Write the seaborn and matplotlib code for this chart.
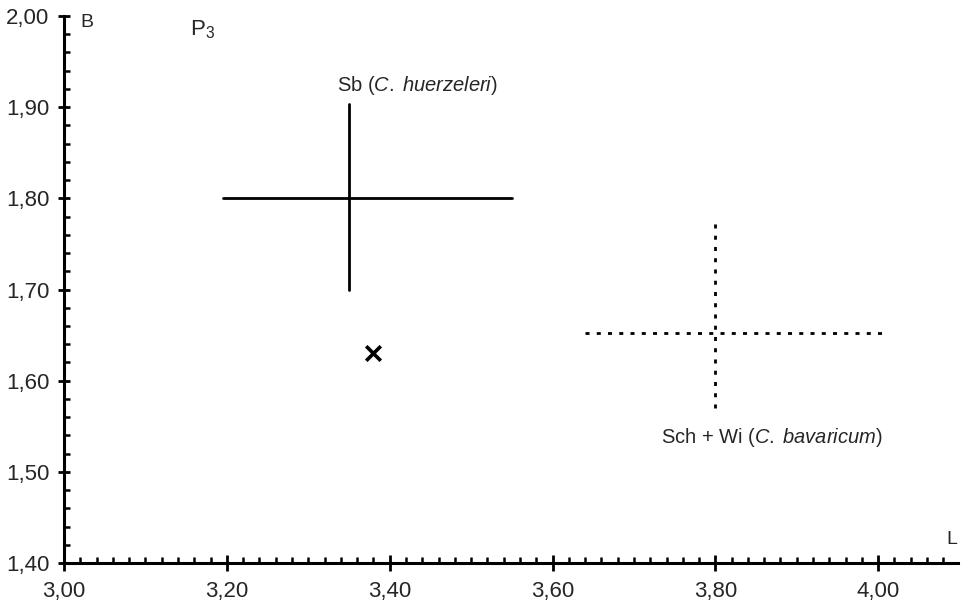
import matplotlib
matplotlib.use("Agg")
import matplotlib.pyplot as plt
import seaborn as sns
import pandas as pd
import numpy as np
from matplotlib.ticker import MultipleLocator, FuncFormatter

# --- data ---
groups = ["Sb (C. huerzeleri)", "Sch + Wi (C. bavaricum)"]
l_min = [3.195, 3.64]
l_mean = [3.35, 3.80]
l_max = [3.55, 4.005]
b_min = [1.70, 1.57]
b_mean = [1.80, 1.652]
b_max = [1.903, 1.78]
single_l = [3.38]
single_b = [1.63]
x_ticks = [3.00, 3.20, 3.40, 3.60, 3.80, 4.00]
y_ticks = [1.40, 1.50, 1.60, 1.70, 1.80, 1.90, 2.00]

sns.set_style("white")
plt.rcParams["font.family"] = ["Liberation Sans", "DejaVu Sans"]
plt.rcParams["mathtext.fontset"] = "custom"
plt.rcParams["mathtext.rm"] = "Liberation Sans"
plt.rcParams["mathtext.it"] = "Liberation Sans:italic"

fig = plt.figure(figsize=(9.66, 6.03), dpi=100)
ax = fig.add_axes([0.0663, 0.0663, 0.9254, 0.9072])

styles = ["-", (0, (1.45, 2.6))]
for i, g in enumerate(groups):
    hseg = pd.DataFrame({"L": [l_min[i], l_max[i]], "B": [b_mean[i], b_mean[i]]})
    vseg = pd.DataFrame({"L": [l_mean[i], l_mean[i]], "B": [b_min[i], b_max[i]]})
    for seg in (hseg, vseg):
        sns.lineplot(data=seg, x="L", y="B", ax=ax, color="black", lw=2.0,
                     linestyle=styles[i], sort=False, estimator=None)

pts = pd.DataFrame({"L": single_l, "B": single_b})
sns.scatterplot(data=pts, x="L", y="B", ax=ax, marker="x", s=110,
                color="black", linewidth=2.6)

ax.set_xlim(3.0, 4.098)
ax.set_ylim(1.40, 2.00)
ax.set_xlabel("")
ax.set_ylabel("")

for s in ("top", "right"):
    ax.spines[s].set_visible(False)
for s in ("left", "bottom"):
    ax.spines[s].set_linewidth(2.2)
    ax.spines[s].set_color("black")

ax.set_xticks(x_ticks)
ax.set_yticks(y_ticks)
ax.xaxis.set_minor_locator(MultipleLocator(0.02))
ax.yaxis.set_minor_locator(MultipleLocator(0.02))
fmt = FuncFormatter(lambda v, p: f"{v:.2f}".replace(".", ","))
ax.xaxis.set_major_formatter(fmt)
ax.yaxis.set_major_formatter(fmt)

ax.tick_params(which="both", bottom=True, left=True, top=False, right=False)
ax.tick_params(axis="x", which="major", direction="inout", length=11.5, width=2.0,
               pad=7.5, labelsize=16, color="black")
ax.tick_params(axis="y", which="major", direction="inout", length=9, width=2.0,
               pad=6, labelsize=16, color="black")
ax.tick_params(axis="x", which="minor", direction="in", length=4.5, width=1.8, color="black")
ax.tick_params(axis="y", which="minor", direction="in", length=4, width=1.8, color="black")

ax.text(3.434, 1.924, "Sb ($\\mathit{C.\\;huerzeleri}$)", ha="center", va="center", fontsize=14.5)
ax.text(3.87, 1.538, "Sch + Wi ($\\mathit{C.\\;bavaricum}$)", ha="center", va="center", fontsize=14.5)
ax.text(3.155, 1.985, "P$_3$", ha="left", va="center", fontsize=16)
ax.text(3.02, 1.993, "B", ha="left", va="center", fontsize=14)
ax.text(4.09, 1.426, "L", ha="center", va="center", fontsize=14, clip_on=False)

fig.savefig("out.png", dpi=100)
